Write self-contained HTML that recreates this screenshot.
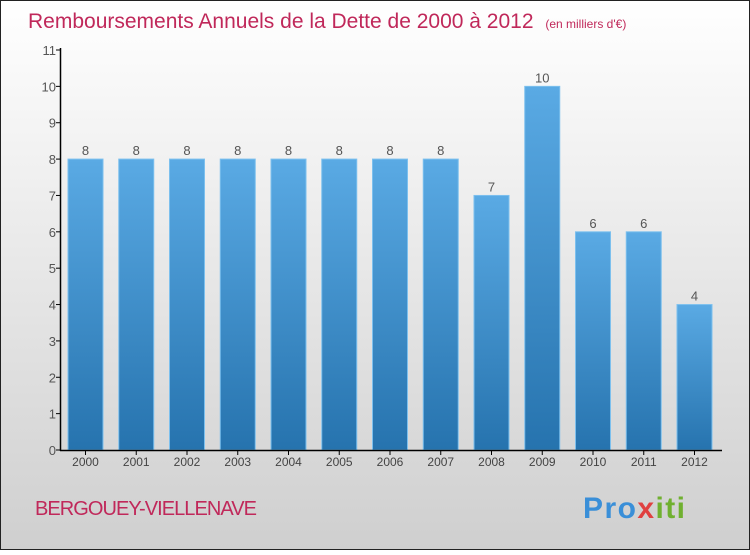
<!DOCTYPE html>
<html><head><meta charset="utf-8"><style>
body{margin:0;width:750px;height:550px;overflow:hidden;font-family:"Liberation Sans",sans-serif}
</style></head><body>
<svg width="750" height="550" xmlns="http://www.w3.org/2000/svg">
<defs>
<linearGradient id="bg" x1="0" y1="0" x2="0" y2="1"><stop offset="0" stop-color="#ffffff"/><stop offset="1" stop-color="#cfcfcf"/></linearGradient>
<linearGradient id="bar" x1="0" y1="0" x2="0" y2="1"><stop offset="0" stop-color="#5aaae4"/><stop offset="1" stop-color="#2673ae"/></linearGradient>
</defs>
<rect x="0.5" y="0.5" width="749" height="549" fill="url(#bg)" stroke="#222"/>
<text x="28" y="28" font-size="21" fill="#c0285a">Remboursements Annuels de la Dette de 2000 à 2012 <tspan font-size="12" dx="6">(en milliers d'€)</tspan></text>
<g id="plot"></g>
<text x="35" y="515" font-size="20" fill="#c0285a" textLength="222">BERGOUEY-VIELLENAVE</text>
<text x="583" y="518" font-size="30" font-weight="bold" fill="#f0a020" textLength="102"><tspan fill="#3a8fd8">Pro</tspan><tspan fill="#e04040">x</tspan><tspan fill="#70b030">iti</tspan></text>
</svg>
<script>
const years=["2000","2001","2002","2003","2004","2005","2006","2007","2008","2009","2010","2011","2012"];
const values=[8,8,8,8,8,8,8,8,7,10,6,6,4];
const yTicks=[0,1,2,3,4,5,6,7,8,9,10,11];
const NS="http://www.w3.org/2000/svg";
const g=document.getElementById('plot');
const y=v=>450-v*(400/11);
const x=i=>85.5+i*50.75;
function el(t,a,txt){const e=document.createElementNS(NS,t);for(const k in a)e.setAttribute(k,a[k]);if(txt!==undefined)e.textContent=txt;g.appendChild(e);return e;}
yTicks.forEach(v=>{
 const l=el('line',{x1:56,x2:61,y1:y(v),y2:y(v),stroke:'#000'});
 
 
 const t=el('text',{x:56,y:y(v)+5,'font-size':13,fill:'#555','text-anchor':'end'},v);
 
 
});
values.forEach((v,i)=>{
 const r=el('rect',{x:x(i)-17.5,y:y(v),width:35,height:450-y(v),fill:'url(#bar)',stroke:'#7cc0ee','stroke-width':1});
 
 
 const t=el('text',{x:x(i),y:y(v)-4,'font-size':13,fill:'#555','text-anchor':'middle'},v);
 
 
 const tk=el('line',{x1:x(i),x2:x(i),y1:450,y2:455,stroke:'#000'});
 
 
 const xl=el('text',{x:x(i),y:466,'font-size':12,fill:'#444','text-anchor':'middle'},years[i]);
 
 
});
const ya=el('line',{x1:60.5,x2:60.5,y1:48,y2:451,stroke:'#000','stroke-width':1.5});


const xa=el('line',{x1:60,x2:722,y1:450.5,y2:450.5,stroke:'#000','stroke-width':1.5});


</script>
</body></html>
